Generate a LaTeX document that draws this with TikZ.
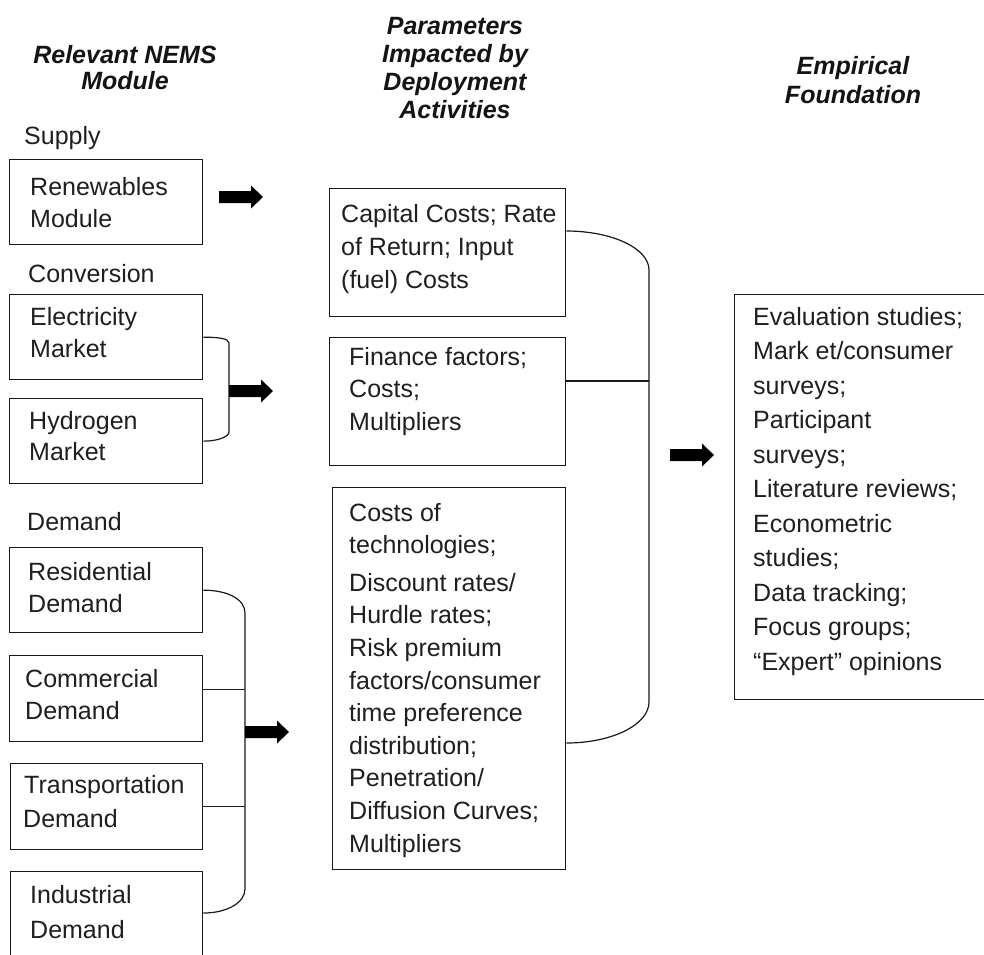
\documentclass[tikz,border=0pt]{standalone}
\usepackage{fontspec}
\setmainfont{Liberation Sans}
\newcommand\tl[2]{\vtop{\baselineskip=#1pt\relax#2}}
\newcommand\li[1]{\hbox{#1}}
\newcommand\ctl[2]{\vtop{\baselineskip=#1pt\relax\halign{\hfil##\hfil\cr#2\crcr}}}
\begin{document}
\begin{tikzpicture}[x=1pt,y=-1pt,
  box/.style={draw=black!90, line width=1.3pt, inner sep=0pt, anchor=north west},
  txt/.style={anchor=base west, inner sep=0pt, text=black!88, font=\fontsize{25}{30}\selectfont},
  hdr/.style={anchor=base, inner sep=0pt, text=black!92, font=\fontsize{25}{28}\selectfont\bfseries\itshape},
  link/.style={line width=1.2pt, draw=black!90},
  blk/.style={fill=black}]
\newcommand\blockarrow[1]{\fill[blk] (#1) ++(0,-6) -- ++(32,0) -- ++(0,-5.5) -- ++(12,11.5) -- ++(-12,11.5) -- ++(0,-5.5) -- ++(-32,0) -- cycle;}
\useasboundingbox[fill=white] (0,0) rectangle (984,954);

% headers
\node[hdr] (h1) at (125,63) {\ctl{26}{Relevant NEMS\cr Module}};
\node[hdr] (h2) at (455,34) {\ctl{28.3}{Parameters\cr Impacted by\cr Deployment\cr Activities}};
\node[hdr] (h3) at (853,74) {\ctl{29}{Empirical\cr Foundation}};

% section labels
\node[txt] (lsup) at (24,144) {Supply};
\node[txt] (lcon) at (28,282) {Conversion};
\node[txt] (ldem) at (27,530) {Demand};

% left column boxes
\node[box, minimum width=193, minimum height=85] (ren) at (9,159) {};
\node[txt] (renT) at (30,195) {\tl{32}{\li{Renewables}\li{Module}}};
\node[box, minimum width=193, minimum height=85] (ele) at (9,294) {};
\node[txt] (eleT) at (30,325) {\tl{32}{\li{Electricity}\li{Market}}};
\node[box, minimum width=193, minimum height=85] (hyd) at (9,398) {};
\node[txt] (hydT) at (29,429) {\tl{31}{\li{Hydrogen}\li{Market}}};
\node[box, minimum width=193, minimum height=85] (res) at (9,547) {};
\node[txt] (resT) at (28,580) {\tl{32}{\li{Residential}\li{Demand}}};
\node[box, minimum width=193, minimum height=86] (com) at (9,655) {};
\node[txt] (comT) at (25,687) {\tl{32}{\li{Commercial}\li{Demand}}};
\node[box, minimum width=192, minimum height=86] (tra) at (10,763) {};
\node[txt] (traT) at (24,793) {\tl{34}{\li{Transportation}\li{\kern-1pt Demand}}};
\node[box, minimum width=192, minimum height=100] (ind) at (10,871) {};
\node[txt] (indT) at (30,903) {\tl{35}{\li{Industrial}\li{Demand}}};

% middle column boxes
\node[box, minimum width=236, minimum height=128] (p1) at (329,188) {};
\node[txt] (p1T) at (341,222) {\tl{33}{\li{Capital Costs; Rate}\li{of Return; Input}\li{(fuel) Costs}}};
\node[box, minimum width=236, minimum height=128] (p2) at (329,337) {};
\node[txt] (p2T) at (349,365) {\tl{32.5}{\li{Finance factors;}\li{Costs;}\li{Multipliers}}};
\node[box, minimum width=233, minimum height=382] (p3) at (332,487) {};
\node[txt] (p3T) at (349,521) {\tl{32.6}{\li{Costs of}\li{technologies;}\kern5pt\li{Discount rates/}\li{Hurdle rates;}\li{Risk premium}\li{factors/consumer}\li{time preference}\li{distribution;}\li{Penetration/}\li{Diffusion Curves;}\li{Multipliers}}};

% right box
\node[box, minimum width=262, minimum height=405] (emp) at (734,294) {};
\node[txt] (empT) at (753,325) {\tl{34.5}{\li{Evaluation studies;}\li{Mark et/consumer}\li{surveys;}\li{Participant}\li{surveys;}\li{Literature reviews;}\li{Econometric}\li{studies;}\li{Data tracking;}\li{Focus groups;}\li{\textquotedblleft Expert\textquotedblright\ opinions}}};

% conversion bracket
\coordinate (cb1) at (229,343);
\coordinate (cb2) at (229,432);
\coordinate (cba) at (229,391);
\draw[link] (ele.east) .. controls +(15,0) and +(0,-4.5) .. (cb1) -- (cb2) .. controls +(0,4.5) and +(15,0) .. (hyd.east);

% demand bracket
\coordinate (db1) at (245,613);
\coordinate (db2) at (245,889);
\coordinate (dba) at (245,732);
\coordinate (indE) at ([yshift=-42pt]ind.north east);
\coordinate (comE) at ([yshift=9pt]com.east);
\draw[link] (res.east) .. controls +(24,0) and +(0,-14) .. (db1) -- (db2) .. controls +(0,13.5) and +(24,0) .. (indE);
\draw[link] (comE) -- (db1 |- comE);
\draw[link] (tra.east) -- (db1 |- tra.east);

% middle bracket
\coordinate (p1E) at ([yshift=-43pt]p1.north east);
\coordinate (p2E) at ([yshift=-44pt]p2.north east);
\coordinate (p3E) at ([yshift=-256pt]p3.north east);
\coordinate (mb1) at (649,270);
\coordinate (mb2) at (649,702);
\draw[link] (p1E) .. controls +(46,0) and +(0,-21.5) .. (mb1) -- (mb2) .. controls +(0,22.5) and +(46,0) .. (p3E);
\draw[link] (p2E) -- (mb1 |- p2E);

% block arrows
\coordinate (sa) at (219,197);
\coordinate (ma) at (670,455);
\blockarrow{sa}
\blockarrow{cba}
\blockarrow{dba}
\blockarrow{ma}
\end{tikzpicture}
\end{document}
